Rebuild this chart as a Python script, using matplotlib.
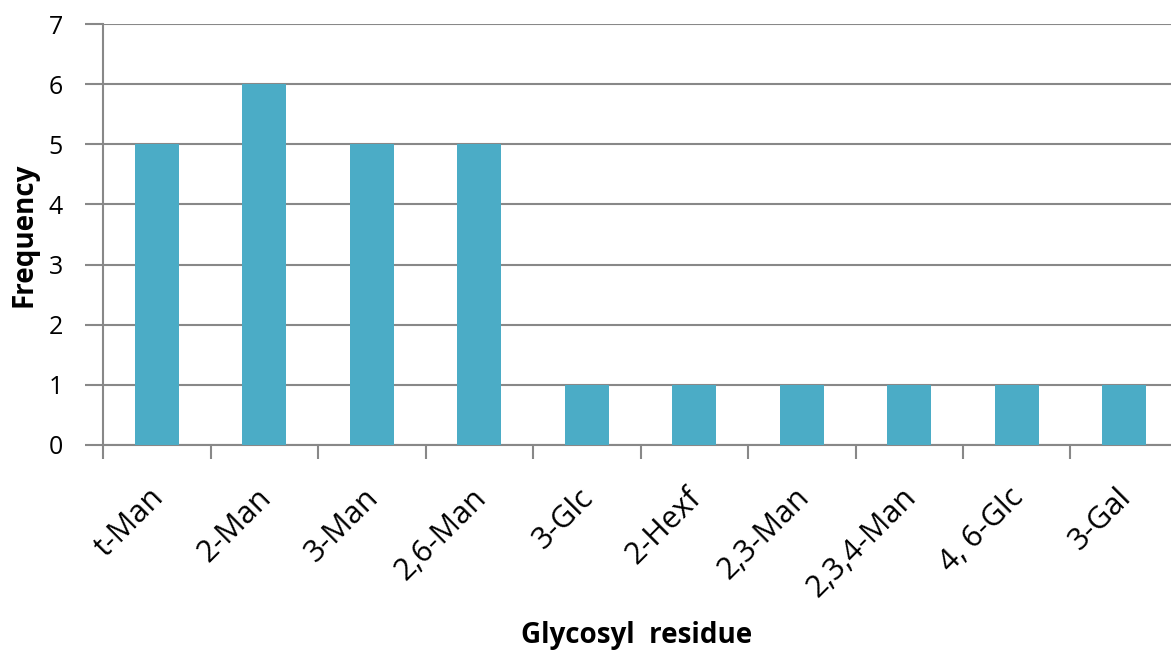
import matplotlib.pyplot as plt
import matplotlib.transforms as mtransforms
from matplotlib.ticker import FixedLocator, NullFormatter
import numpy as np

residues = ['t-Man', '2-Man', '3-Man', '2,6-Man', '3-Glc', '2-Hexf',
            '2,3-Man', '2,3,4-Man', '4, 6-Glc', '3-Gal']
frequency = [5, 6, 5, 5, 1, 1, 1, 1, 1, 1]

plt.rcParams['font.family'] = ['Open Sans', 'DejaVu Sans']

fig = plt.figure(figsize=(11.71, 6.52), dpi=100)
ax = fig.add_axes([0.088, 0.3175, 0.912, 0.6455])

x = np.arange(len(residues))
ax.bar(x, frequency, width=0.41, color='#4BACC6', zorder=3)

# axes
ax.set_xlim(-0.5, 9.435)
ax.set_ylim(0, 7)
ax.set_yticks(range(8))
ax.yaxis.grid(True, color='#888888', linewidth=1.5, zorder=0)
for s in ['top', 'right']:
    ax.spines[s].set_visible(False)
for s in ['left', 'bottom']:
    ax.spines[s].set_color('#888888')
    ax.spines[s].set_linewidth(1.5)

ax.tick_params(axis='y', length=13, width=1.5, color='#888888', labelsize=18, pad=16)

# category labels at centres, tick marks between categories
ax.set_xticks(x)
ax.set_xticklabels(residues, rotation=45, ha='right', rotation_mode='anchor', fontsize=22)
ax.tick_params(axis='x', which='major', length=0, pad=27)
shift = mtransforms.ScaledTranslation(-8 / 100, 0, fig.dpi_scale_trans)
for lbl in ax.get_xticklabels():
    lbl.set_transform(lbl.get_transform() + shift)
ax.xaxis.set_minor_locator(FixedLocator(np.arange(-0.5, 10, 1.0)))
ax.xaxis.set_minor_formatter(NullFormatter())
ax.tick_params(axis='x', which='minor', length=10, width=1.5, color='#888888')

ax.set_ylabel('Frequency', fontsize=20, fontweight='bold', va='center')
ax.yaxis.set_label_coords(-0.074, 0.5)
ax.set_xlabel('Glycosyl  residue', fontsize=20, fontweight='bold', va='center')
ax.xaxis.set_label_coords(0.5, -0.4537)

fig.savefig('out.png', dpi=100)
